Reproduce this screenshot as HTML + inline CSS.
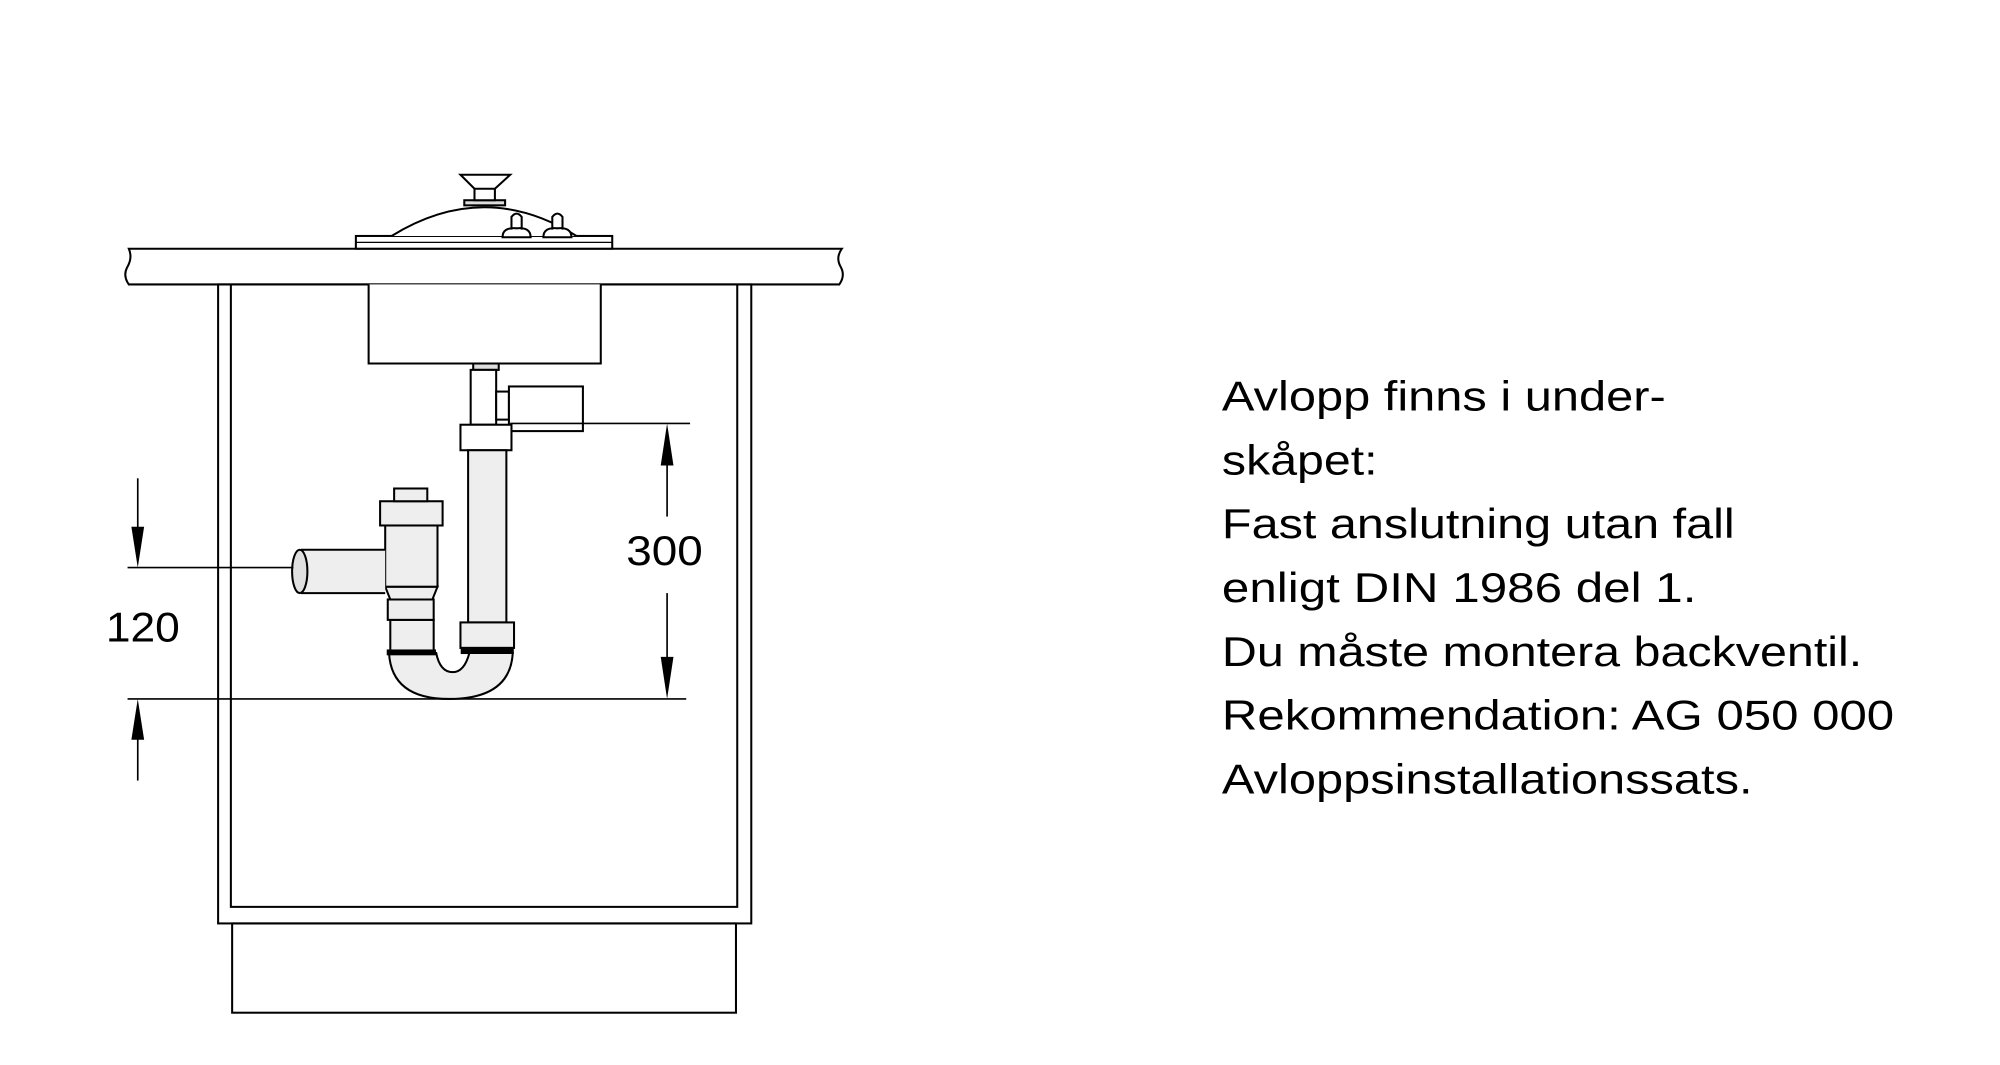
<!DOCTYPE html>
<html><head><meta charset="utf-8"><style>html,body{margin:0;padding:0;background:#fff}svg{display:block}</style></head>
<body>
<svg width="2000" height="1065" viewBox="0 0 1568 835" preserveAspectRatio="none" xmlns="http://www.w3.org/2000/svg">
<g fill="none" stroke="#000" stroke-width="1.6">
<path d="M101 195 L660 195 Q655 202 659 209 Q663 216 658 223 L101 223 Q96 216 100 209 Q104 202 101 195 Z" fill="#fff"/>
<rect x="279" y="185" width="201" height="10" fill="#fff"/>
<line x1="279" y1="190" x2="480" y2="190" stroke-width="1"/>
<path d="M307 185 Q380 140 452 185" fill="#fff"/>
<rect x="364" y="157" width="32" height="4" fill="#ddd"/>
<rect x="372" y="145" width="16" height="12" fill="#fff"/>
<path d="M361 137 L400 137 L388 148 L372 148 Z" fill="#fff"/>
<path d="M394 186 Q394 178 405 179 Q416 178 416 186 Z M401 180 L401 170 Q405 165 409 170 L409 180" fill="#fff"/>
<path d="M426 186 Q426 178 437 179 Q448 178 448 186 Z M433 180 L433 170 Q437 165 441 170 L441 180" fill="#fff"/>
<rect x="171" y="223" width="418" height="501"/>
<polyline points="181,223 181,711 578,711 578,223"/>
<rect x="182" y="724" width="395" height="70"/>
<path d="M289 223 L289 285 L471 285 L471 223" fill="#fff"/>
<rect x="371" y="285" width="20" height="5" fill="#ddd"/>
<rect x="369" y="290" width="20" height="43" fill="#fff"/>
<rect x="389" y="307" width="10" height="22" fill="#fff"/>
<rect x="399" y="303" width="58" height="35" fill="#fff"/>
<rect x="361" y="333" width="40" height="20" fill="#fff"/>
<rect x="367" y="353" width="30" height="135" fill="#eee"/>
<rect x="361" y="488" width="42" height="20" fill="#eee"/>
<rect x="362" y="508" width="40" height="4" fill="#000"/>
<path d="M305 512 L342 512 Q345 527 355 527 Q364 527 368 512 L402 512 Q400 548 352 548 Q307 548 305 512 Z" fill="#eee"/>
<rect x="304" y="510" width="37" height="3" fill="#000"/>
<rect x="306" y="486" width="34" height="24" fill="#eee"/>
<rect x="304" y="470" width="36" height="16" fill="#eee"/>
<path d="M302 460 L343 460 L339 470 L306 470 Z" fill="#eee"/>
<rect x="302" y="412" width="41" height="48" fill="#eee"/>
<rect x="298" y="393" width="49" height="19" fill="#eee"/>
<rect x="309" y="383" width="26" height="10" fill="#eee"/>
<rect x="236" y="431" width="66" height="34" fill="#eee" stroke="none"/>
<line x1="236" y1="431" x2="302" y2="431"/><line x1="236" y1="465" x2="302" y2="465"/>
<ellipse cx="235" cy="448" rx="6" ry="17" fill="#e0e0e0"/>
<line x1="100" y1="445" x2="230" y2="445" stroke-width="1.3"/>
<line x1="100" y1="548" x2="538" y2="548" stroke-width="1.3"/>
<line x1="400" y1="332" x2="541" y2="332" stroke-width="1.3"/>
<line x1="108" y1="375" x2="108" y2="420" stroke-width="1.3"/>
<line x1="108" y1="575" x2="108" y2="612" stroke-width="1.3"/>
<line x1="523" y1="350" x2="523" y2="405" stroke-width="1.3"/>
<line x1="523" y1="465" x2="523" y2="520" stroke-width="1.3"/>
</g>
<g fill="#000">
<path d="M103 413 L113 413 L108 445 Z"/>
<path d="M103 580 L113 580 L108 548 Z"/>
<path d="M518 365 L528 365 L523 332 Z"/>
<path d="M518 515 L528 515 L523 548 Z"/>
</g>
<g font-family="'Liberation Sans', sans-serif" font-size="33" fill="#000">
<text x="83" y="503" textLength="58" lengthAdjust="spacingAndGlyphs">120</text>
<text x="491" y="443" textLength="60" lengthAdjust="spacingAndGlyphs">300</text>
<text x="958" y="322" textLength="348" lengthAdjust="spacingAndGlyphs">Avlopp finns i under-</text>
<text x="958" y="372" textLength="122" lengthAdjust="spacingAndGlyphs">skåpet:</text>
<text x="958" y="422" textLength="402" lengthAdjust="spacingAndGlyphs">Fast anslutning utan fall</text>
<text x="958" y="472" textLength="372" lengthAdjust="spacingAndGlyphs">enligt DIN 1986 del 1.</text>
<text x="958" y="522" textLength="502" lengthAdjust="spacingAndGlyphs">Du måste montera backventil.</text>
<text x="958" y="572" textLength="527" lengthAdjust="spacingAndGlyphs">Rekommendation: AG 050 000</text>
<text x="958" y="622" textLength="416" lengthAdjust="spacingAndGlyphs">Avloppsinstallationssats.</text>
</g>
</svg>
</body></html>
